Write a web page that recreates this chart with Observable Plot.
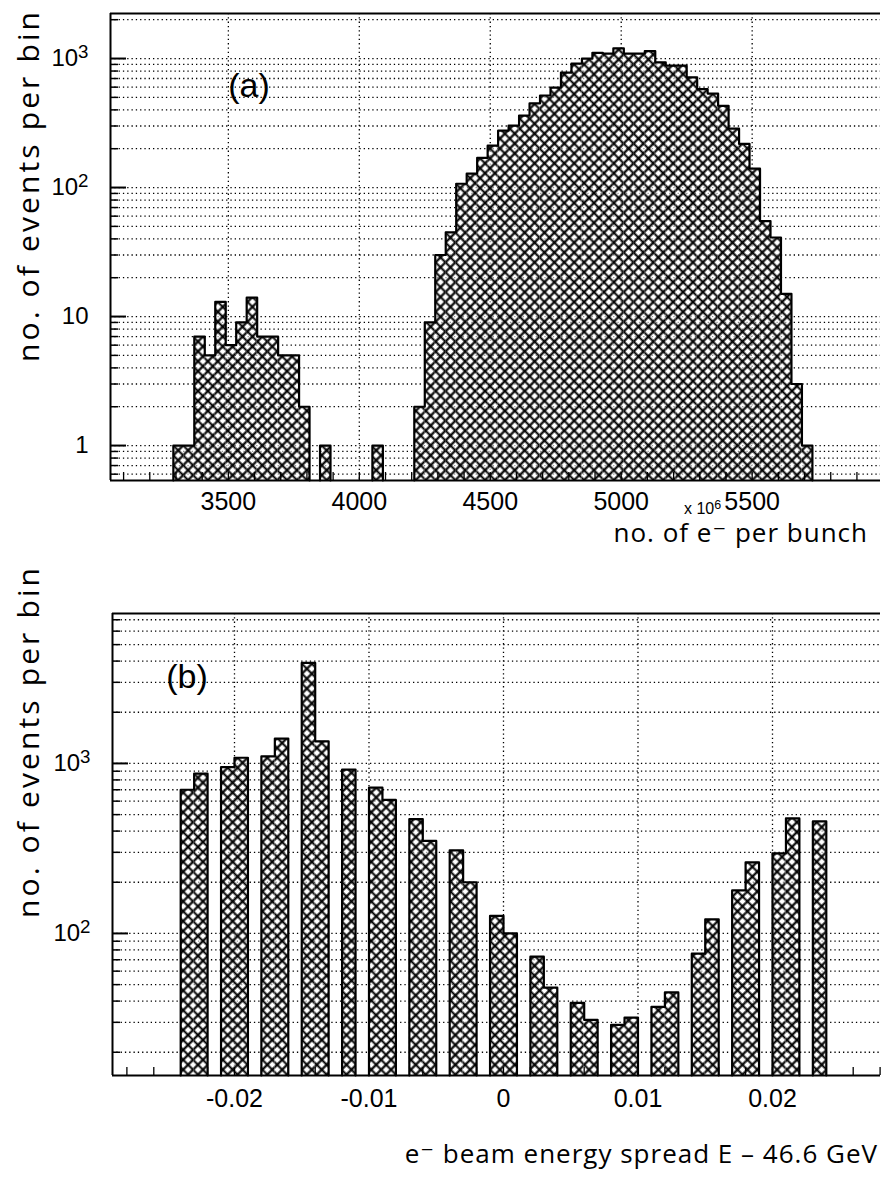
<!DOCTYPE html>
<html>
<head>
<meta charset="utf-8">
<script src="https://cdn.jsdelivr.net/npm/d3@7"></script>
<script src="https://cdn.jsdelivr.net/npm/@observablehq/plot@0.6"></script>
<style>
  html, body { margin: 0; padding: 0; background: #fff; }
  #chart { position: relative; width: 881px; height: 1182px; overflow: hidden; }
  #chart svg { position: absolute; left: 0; }
</style>
</head>
<body>
<div id="chart"></div>
<script>
// ---------- Panel (a): number of e- per bunch (x 10^6) ----------
const bunchBinStart = 3290;
const bunchBinWidth = 40;
const bunchCounts = [1,1,7,5,13,6,9,14,7,7,5,5,2,0,1,0,0,0,0,1,0,0,0,
  2,9,30,45,107,128,170,211,276,302,361,449,517,595,779,912,998,1108,1090,1200,
  1090,1090,1140,935,880,880,715,580,535,430,286,218,140,55,41,15,3,1];
const bunchTicks = [3500, 4000, 4500, 5000, 5500];
const bunchYTicks = [1, 10, 100, 1000];
const bunchYLabels = ["1", "10", "10²", "10³"];
const bunchXDomain = [3050, 5990];
const bunchYDomain = [0.536, 2234];

// ---------- Panel (b): e- beam energy spread E - 46.6 GeV ----------
const energyBinWidth = 0.001;
const energyBinLeft = [-0.024,-0.023,-0.021,-0.020,-0.018,-0.017,-0.015,-0.014,-0.012,
  -0.010,-0.009,-0.007,-0.006,-0.004,-0.003,-0.001,0.000,0.002,0.003,0.005,0.006,
  0.008,0.009,0.011,0.012,0.014,0.015,0.017,0.018,0.020,0.021,0.023];
const energyCounts = [700,870,950,1080,1100,1400,3900,1350,920,
  720,610,470,350,308,200,127,100,73,48,39,31,
  29,32,37,45,76,121,179,262,296,475,456];
const energyTicks = [-0.02, -0.01, 0, 0.01, 0.02];
const energyTickLabels = ["-0.02", "-0.01", "0", "0.01", "0.02"];
const energyYTicks = [100, 1000];
const energyYLabels = ["10²", "10³"];
const energyXDomain = [-0.02907, 0.02803];
const energyYDomain = [14.6, 7620];

// ---------- helpers ----------
const tickFont = "'Liberation Sans Narrow', 'Liberation Sans', Arial, sans-serif";
const titleFont = "'Open Sans', 'DejaVu Sans', sans-serif";
const dotted = {stroke: "#000", strokeWidth: 1.3, strokeDasharray: "1.3,3"};
const superDigits = {"²": "2", "³": "3", "⁶": "6"};

function makeBins(lefts, width, counts) {
  return lefts.map((l, i) => ({x1: l, x2: l + width, count: counts[i]})).filter(d => d.count > 0);
}
function outline(bins, base, width) {
  const pts = [];
  let seg = 0, prev = null;
  for (const b of bins) {
    if (prev === null || Math.abs(b.x1 - prev) > width * 1e-4) {
      if (prev !== null) { pts.push({x: prev, y: base, seg}); seg++; }
      pts.push({x: b.x1, y: base, seg});
    }
    pts.push({x: b.x1, y: b.count, seg}, {x: b.x2, y: b.count, seg});
    prev = b.x2;
  }
  pts.push({x: prev, y: base, seg});
  return pts;
}
function addHatch(svg, id) {
  const defs = d3.select(svg).insert("defs", ":first-child");
  const p = defs.append("pattern").attr("id", id)
    .attr("patternUnits", "userSpaceOnUse").attr("width", 7).attr("height", 7)
    .attr("patternTransform", "rotate(45)");
  p.append("rect").attr("width", 7).attr("height", 7).attr("fill", "#fff").attr("fill-opacity", 0.6);
  p.append("path").attr("d", "M0,3.5H7M3.5,0V7").attr("stroke", "#000").attr("stroke-width", 2.2);
}
function logGrid(domain) {
  return d3.scaleLog().domain(domain).ticks().filter(v => v > domain[0] && v < domain[1]);
}
// turn trailing superscript characters into raised tspans (keeps real text)
function raiseSuperscripts(svg) {
  d3.select(svg).selectAll("text").each(function() {
    const s = this.textContent;
    const last = s.slice(-1);
    if (s.length > 1 && superDigits[last] && this.childNodes.length === 1) {
      const t = d3.select(this);
      t.text(null);
      t.append("tspan").text(s.slice(0, -1));
      t.append("tspan").attr("dy", "-0.42em").attr("font-size", "0.78em").text(superDigits[last]);
    }
  });
}

function panel({lefts, width, counts, xDomain, yDomain, xTicks, xTickFormat, minorX, yTicks, yLabels,
                marginTop, marginBottom, marginLeft, height, hatchId, xTickPadding}) {
  const bins = makeBins(lefts, width, counts);
  const base = yDomain[0];
  const grid = logGrid(yDomain);
  const minors = grid.filter(v => !yTicks.includes(v));
  return Plot.plot({
    width: 881, height, marginTop, marginBottom, marginLeft, marginRight: 1,
    style: {fontFamily: tickFont, background: "transparent", overflow: "visible", color: "#000"},
    x: {domain: xDomain, label: null},
    y: {type: "log", domain: yDomain, label: null},
    marks: [
      Plot.ruleY(grid, dotted),
      Plot.ruleX(xTicks, dotted),
      Plot.rect(bins, {x1: "x1", x2: "x2", y1: () => base, y2: "count", fill: `url(#${hatchId})`}),
      Plot.line(outline(bins, base, width), {x: "x", y: "y", z: "seg", stroke: "#000", strokeWidth: 2.2, curve: "linear"}),
      Plot.ruleX([xDomain[0]], {stroke: "#000", strokeWidth: 2}),
      Plot.ruleY([yDomain[0]], {stroke: "#000", strokeWidth: 2.2}),
      Plot.ruleY([yDomain[1]], {stroke: "#000", strokeWidth: 2.2}),
      Plot.axisX(minorX, {tickSize: -8, tickFormat: () => "", label: null, strokeWidth: 1.3}),
      Plot.axisX(xTicks, {tickSize: 0, tickPadding: xTickPadding, tickFormat: xTickFormat, fontSize: 25, label: null}),
      Plot.axisY(minors, {tickSize: -8, tickFormat: () => "", label: null, strokeWidth: 1.5}),
      Plot.axisY(yTicks, {tickSize: -16, tickFormat: () => "", label: null, strokeWidth: 2}),
      Plot.axisY(yTicks, {tickSize: 0, tickPadding: 22, tickFormat: d => yLabels[yTicks.indexOf(d)], fontSize: 24, label: null})
    ]
  });
}

const chart = document.getElementById("chart");

// Panel (a)
const svgA = panel({
  lefts: bunchCounts.map((_, i) => bunchBinStart + i * bunchBinWidth),
  width: bunchBinWidth, counts: bunchCounts,
  xDomain: bunchXDomain, yDomain: bunchYDomain,
  xTicks: bunchTicks, xTickFormat: d => String(d),
  minorX: d3.range(3100, 5901, 100),
  yTicks: bunchYTicks, yLabels: bunchYLabels,
  marginTop: 13, marginBottom: 65, marginLeft: 110, height: 545, hatchId: "hatchA", xTickPadding: 12
});
addHatch(svgA, "hatchA");
svgA.style.top = "0px";
chart.appendChild(svgA);

// Panel (b)
const svgB = panel({
  lefts: energyBinLeft, width: energyBinWidth, counts: energyCounts,
  xDomain: energyXDomain, yDomain: energyYDomain,
  xTicks: energyTicks, xTickFormat: d => energyTickLabels[energyTicks.indexOf(d)],
  minorX: d3.range(-14, 15).map(k => k * 0.002),
  yTicks: energyYTicks, yLabels: energyYLabels,
  marginTop: 68, marginBottom: 107, marginLeft: 112, height: 637, hatchId: "hatchB", xTickPadding: 14
});
addHatch(svgB, "hatchB");
svgB.style.top = "545px";
chart.appendChild(svgB);

// ---------- titles and annotations ----------
function addText(svg, {x, y, text, size, anchor = "start", rotate = 0, family = titleFont, weight = 400, length = null, spacing = null}) {
  const t = d3.select(svg).append("text")
    .attr("transform", `translate(${x},${y}) rotate(${rotate})`)
    .attr("text-anchor", anchor)
    .attr("font-family", family).attr("font-size", size).attr("font-weight", weight)
    .attr("fill", "#000").text(text);
  if (length) t.attr("textLength", length).attr("lengthAdjust", "spacing");
  if (spacing) t.attr("letter-spacing", spacing);
  return t;
}
addText(svgA, {x: 39, y: 187, text: "no. of events per bin", size: 30, anchor: "middle", rotate: -90, length: 350});
addText(svgA, {x: 249, y: 97, text: "(a)", size: 34, anchor: "middle", family: tickFont});
addText(svgA, {x: 868, y: 542, text: "no. of e⁻ per bunch", size: 26, anchor: "end", spacing: 1});
addText(svgA, {x: 684, y: 514, text: "x 10⁶", size: 16, anchor: "start", family: tickFont});

addText(svgB, {x: 39, y: 198, text: "no. of events per bin", size: 30, anchor: "middle", rotate: -90, length: 350});
addText(svgB, {x: 187, y: 143, text: "(b)", size: 34, anchor: "middle", family: tickFont});
addText(svgB, {x: 878, y: 618, text: "e⁻ beam energy spread E – 46.6 GeV", size: 26, anchor: "end", spacing: 1});

raiseSuperscripts(svgA);
raiseSuperscripts(svgB);
</script>
</body>
</html>
